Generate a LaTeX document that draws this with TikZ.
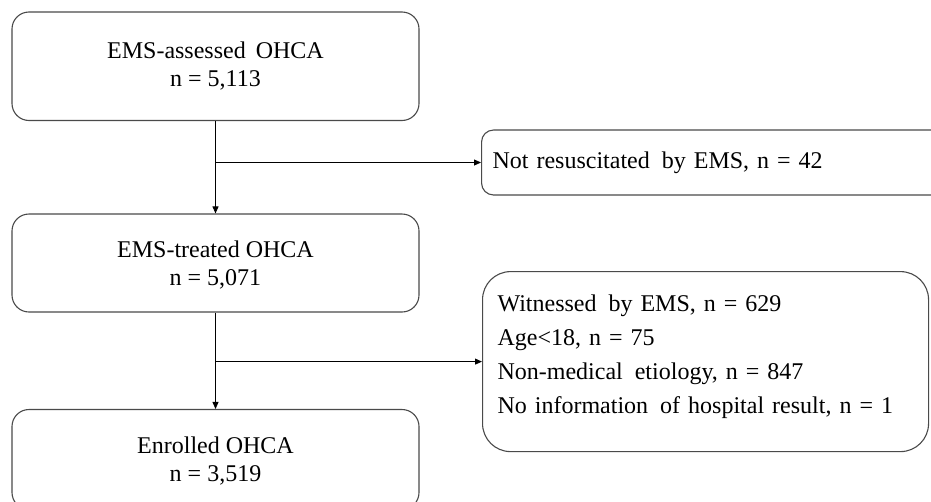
\documentclass[tikz,border=0pt]{standalone}
\usepackage{fontspec}
\setmainfont{Liberation Serif}
\usetikzlibrary{arrows.meta}
\definecolor{boxgray}{HTML}{4A4A4A}
\begin{document}
\begin{tikzpicture}[x=1pt,y=-1pt,
  mainbox/.style={draw=boxgray, line width=1.1pt, rounded corners=17pt,
    minimum width=407pt, align=center, inner sep=0pt,
    font=\fontsize{24}{28}\selectfont},
  sidebox/.style={draw=boxgray, line width=1.1pt, anchor=west, align=left,
    inner xsep=11pt, inner ysep=0pt, font=\fontsize{24}{34}\selectfont},
  arr/.style={draw=black, line width=0.8pt, -{Triangle[length=7pt,width=6pt]}}]
\useasboundingbox (0,0) rectangle (931,501);
\clip (0,0) rectangle (931,501);
\node[mainbox, minimum height=108.5pt] (b1) at (215.5,66.25) {EMS-assessed\, OHCA\\n = 5,113};
\node[mainbox, minimum height=98pt, text depth=-6pt] (b2) at (215.5,263) {EMS-treated OHCA\\n = 5,071};
\node[mainbox, minimum height=100pt, text depth=-9pt] (b3) at (215.5,459.5) {Enrolled OHCA\\n = 3,519};
\node[sidebox, rounded corners=12pt, minimum height=65pt, text width=500pt] (nr) at (481,162.5)
  {Not resuscitated\, by EMS, n = 42};
\node[sidebox, rounded corners=28pt, minimum height=180pt, text width=416pt, inner xsep=15pt, text depth=117pt] (ex) at (482,361.6)
  {Witnessed\, by EMS, n = 629\\Age<18, n = 75\\Non-medical\, etiology, n = 847\\No information\, of hospital result, n = 1};
\coordinate (j1) at (b1.south |- nr.west);
\coordinate (j2) at (b2.south |- ex.west);
\draw[arr] (b1.south) -- (b2.north);
\draw[arr] (j1) -- (nr.west);
\draw[arr] (b2.south) -- (b3.north);
\draw[arr] (j2) -- (ex.west);
\end{tikzpicture}
\end{document}
